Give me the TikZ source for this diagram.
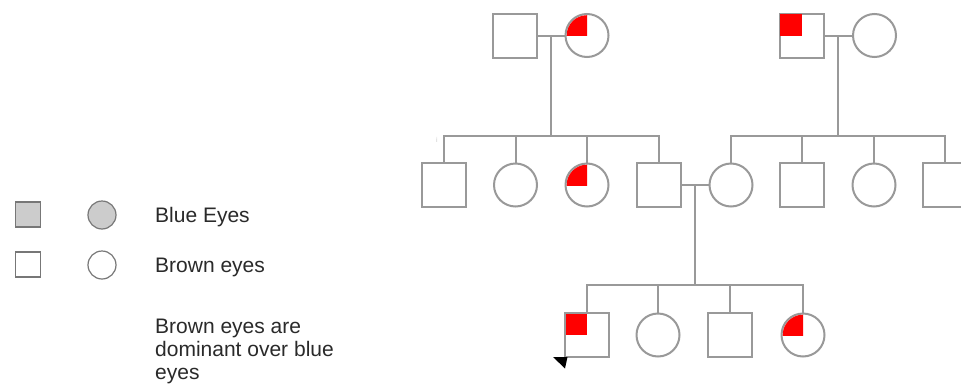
\documentclass[tikz,border=0pt]{standalone}
\usepackage{fontspec}
\setmainfont{Liberation Sans}
\usetikzlibrary{calc}
\definecolor{linegray}{HTML}{999999}
\definecolor{leggray}{HTML}{777777}
\definecolor{legfill}{HTML}{CCCCCC}
\definecolor{txt}{HTML}{2A2A2A}
\begin{document}
\begin{tikzpicture}[x=1pt,y=-1pt,
  conn/.style={draw=linegray,line width=2pt},
  sq/.style={rectangle,draw=linegray,line width=2pt,minimum size=44pt,inner sep=0pt},
  ci/.style={circle,draw=linegray,line width=2pt,minimum size=43pt,inner sep=0pt},
  lsq/.style={rectangle,draw=leggray,line width=1.2pt,minimum size=25pt,inner sep=0pt},
  lci/.style={circle,draw=leggray,line width=1.2pt,minimum size=28pt,inner sep=0pt},
  legtext/.style={anchor=base west,inner sep=0pt,text=txt,font=\fontsize{21}{23}\selectfont}
]
\clip (0,0) rectangle (961,383);
\fill[white] (0,0) rectangle (961,383);

% generation 1
\node[sq] (F1) at (515,35.5) {};
\node[ci] (M1) at (587,35.5) {};
\node[sq] (F2) at (801.5,35.5) {};
\node[ci] (M2) at (874.5,35.5) {};

% generation 2
\node[sq] (S1) at (443.5,185) {};
\node[ci] (D1) at (515.5,185) {};
\node[ci] (D2) at (587,185) {};
\node[sq] (S2) at (659,185) {};
\node[ci] (W)  at (731,185) {};
\node[sq] (B1) at (802,185) {};
\node[ci] (G1) at (874,185) {};
\node[sq] (B2) at (945,185) {};

% generation 3
\node[sq] (C1) at (587,335) {};
\node[ci] (C2) at (658,335) {};
\node[sq] (C3) at (730,335) {};
\node[ci] (C4) at (803,335) {};

% red markings
\begin{scope}
\clip (M1.center) rectangle ++(-25,-25);
\fill[red] (M1.center) circle[radius=20.3pt];
\end{scope}
\begin{scope}
\clip (D2.center) rectangle ++(-25,-25);
\fill[red] (D2.center) circle[radius=20.3pt];
\end{scope}
\begin{scope}
\clip (C4.center) rectangle ++(-25,-25);
\fill[red] (C4.center) circle[radius=20.3pt];
\end{scope}
\fill[red] ([shift={(1.5,1.5)}]F2.north west) rectangle (F2.center);
\fill[red] ([shift={(1.5,1.5)}]C1.north west) rectangle (C1.center);

% couples
\draw[conn] (F1.east) -- (M1.west);
\draw[conn] (F2.east) -- (M2.west);
\draw[conn] (S2.east) -- (W.west);
\coordinate (mA) at ($(F1.east)!0.5!(M1.west)$);
\coordinate (mB) at ($(F2.east)!0.5!(M2.west)$);
\coordinate (mC) at ($(S2.east)!0.5!(W.west)$);
\coordinate (sA) at (551,136);
\coordinate (sB) at (838,136);
\coordinate (sC) at (695,285);

% descent lines
\draw[conn] (mA) -- (mA |- sA);
\draw[conn] (S1.north) -- (S1.north |- sA) -- (S2.north |- sA) -- (S2.north);
\draw[conn] (D1.north) -- (D1.north |- sA);
\draw[conn] (D2.north) -- (D2.north |- sA);

\draw[conn] (mB) -- (mB |- sB);
\draw[conn] (W.north) -- (W.north |- sB) -- (B2.north |- sB) -- (B2.north);
\draw[conn] (B1.north) -- (B1.north |- sB);
\draw[conn] (G1.north) -- (G1.north |- sB);

\draw[conn] (mC) -- (mC |- sC);
\draw[conn] (C1.north) -- (C1.north |- sC) -- (C4.north |- sC) -- (C4.north);
\draw[conn] (C2.north) -- (C2.north |- sC);
\draw[conn] (C3.north) -- (C3.north |- sC);

% tiny mark and corner triangle
\node[text=gray!40,font=\fontsize{7}{8}\selectfont,inner sep=0pt] (imark) at (437,140) {i};
\coordinate (t1) at (553,357);
\fill[black] (t1) -- (567.5,357) -- (565,368.5) -- cycle;

% legend
\node[lsq,fill=legfill] (LS1) at (28,214.5) {};
\node[lci,fill=legfill] (LC1) at (102,215) {};
\node[lsq] (LS2) at (28,264.5) {};
\node[lci] (LC2) at (102,265) {};
\node[legtext] (L1) at (155,222) {Blue Eyes};
\node[legtext] (L2) at (155,272) {Brown eyes};
\node[legtext] (L3) at (155,333) {Brown eyes are};
\node[legtext] (L4) at (155,356) {dominant over blue};
\node[legtext] (L5) at (155,379) {eyes};
\end{tikzpicture}
\end{document}
